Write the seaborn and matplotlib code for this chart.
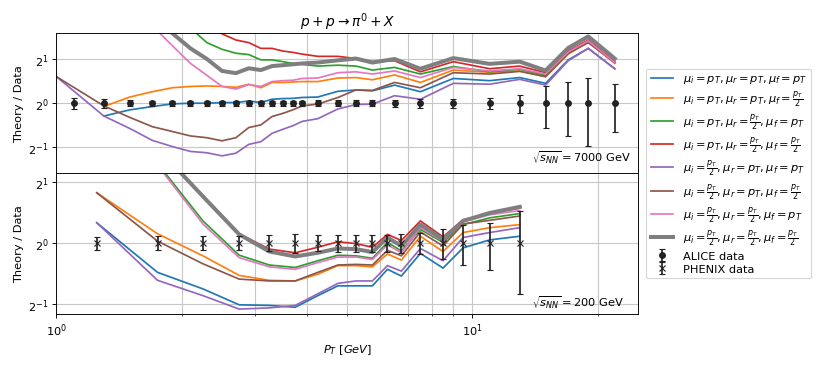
import numpy as np
import matplotlib
matplotlib.use('Agg')
import matplotlib.pyplot as plt
from matplotlib.ticker import NullFormatter
import seaborn as sns

# ALICE pp 7000 GeV (ratio data/data = 1, relative errors)
alice_pt = [1.1, 1.3, 1.5, 1.7, 1.9, 2.1, 2.3, 2.5, 2.7, 2.9, 3.1, 3.3, 3.5, 3.7, 3.9,
            4.25, 4.75, 5.25, 5.75, 6.5, 7.5, 9, 11, 13, 15, 17, 19, 22]
alice_err = [0.08, 0.07, 0.05, 0.04, 0.04, 0.04, 0.04, 0.04, 0.04, 0.04, 0.04, 0.04, 0.04, 0.04, 0.04,
             0.05, 0.05, 0.05, 0.05, 0.06, 0.07, 0.075, 0.09, 0.14, 0.32, 0.40, 0.49, 0.36]

# PHENIX pp 200 GeV
phenix_pt = [1.25, 1.75, 2.25, 2.75, 3.25, 3.75, 4.25, 4.75, 5.25, 5.75, 6.25, 6.75, 7.5, 8.5, 9.5, 11, 13]
phenix_err = [0.075, 0.08, 0.08, 0.08, 0.09, 0.11, 0.09, 0.10, 0.10, 0.10, 0.10, 0.11, 0.12, 0.17, 0.22, 0.26, 0.44]

# theory / data at 7000 GeV, stored as log2(ratio)
pt_7000 = [1.0, 1.3, 1.5, 1.7, 1.9, 2.1, 2.3, 2.5, 2.7, 2.9, 3.1, 3.3, 3.5, 3.7, 3.9,
           4.25, 4.75, 5.25, 5.75, 6.5, 7.5, 9, 11, 13, 15, 17, 19, 22]
nan = np.nan
th7_pt_pt_pt = [nan, -0.29, -0.15, -0.075, -0.015, 0.0, 0.0, 0.015, 0.015, 0.05, 0.015, 0.09, 0.105, 0.11, 0.13,
                0.14, 0.27, 0.30, 0.28, 0.41, 0.26, 0.56, 0.51, 0.58, 0.45, 0.98, 1.24, 0.78]
th7_pt_pt_h = [nan, -0.075, 0.14, 0.26, 0.35, 0.38, 0.39, 0.38, 0.36, 0.43, 0.35, 0.47, 0.47, 0.48, 0.49,
               0.49, 0.57, 0.58, 0.53, 0.64, 0.47, 0.75, 0.70, 0.73, 0.60, 1.11, 1.38, 0.90]
th7_pt_h_pt = [3.4, 2.9, 2.6, 2.3, 2.0, 1.7, 1.37, 1.22, 1.13, 1.10, 0.98, 0.98, 0.94, 0.90, 0.88,
               0.84, 0.86, 0.84, 0.75, 0.81, 0.66, 0.83, 0.71, 0.77, 0.63, 1.13, 1.39, 0.92]
th7_pt_h_h = [3.5, 3.0, 2.7, 2.45, 2.2, 2.0, 1.8, 1.57, 1.43, 1.37, 1.24, 1.24, 1.18, 1.15, 1.11,
              1.06, 1.06, 1.01, 0.94, 0.96, 0.71, 0.94, 0.78, 0.84, 0.69, 1.18, 1.43, 0.94]
th7_h_pt_pt = [0.60, -0.29, -0.57, -0.84, -0.98, -1.09, -1.12, -1.19, -1.13, -0.93, -0.87, -0.68, -0.59, -0.51, -0.41,
               -0.35, -0.13, -0.03, -0.02, 0.17, 0.09, 0.45, 0.43, 0.54, 0.41, 0.96, 1.24, 0.78]
th7_h_pt_h = [0.60, -0.06, -0.32, -0.53, -0.64, -0.74, -0.78, -0.85, -0.78, -0.55, -0.49, -0.30, -0.23, -0.15, -0.06,
              -0.02, 0.13, 0.30, 0.29, 0.47, 0.35, 0.69, 0.66, 0.72, 0.60, 1.13, 1.37, 0.92]
th7_h_h_pt = [3.1, 2.6, 2.2, 1.75, 1.30, 0.90, 0.63, 0.38, 0.32, 0.42, 0.38, 0.49, 0.51, 0.52, 0.56,
              0.57, 0.69, 0.71, 0.66, 0.73, 0.58, 0.81, 0.73, 0.78, 0.66, 1.16, 1.41, 0.92]
th7_h_h_h = [3.3, 2.7, 2.3, 1.95, 1.58, 1.24, 1.00, 0.73, 0.68, 0.79, 0.75, 0.84, 0.86, 0.88, 0.90,
             0.92, 0.97, 1.01, 0.92, 1.00, 0.78, 1.02, 0.89, 0.94, 0.74, 1.25, 1.51, 1.01]

# theory / data at 200 GeV, log2(ratio), at phenix_pt
th2_pt_pt_pt = [0.33, -0.48, -0.75, -1.01, -1.02, -1.05, -0.86, -0.70, -0.70, -0.70, -0.43, -0.54, -0.17, -0.41, -0.08, 0.05, 0.11]
th2_pt_pt_h = [0.82, 0.15, -0.21, -0.53, -0.61, -0.62, -0.51, -0.37, -0.37, -0.39, -0.18, -0.28, 0.11, -0.14, 0.17, 0.25, 0.30]
th2_pt_h_pt = [2.5, 1.30, 0.36, -0.20, -0.36, -0.40, -0.29, -0.20, -0.21, -0.25, 0.01, -0.13, 0.22, 0.01, 0.30, 0.41, 0.48]
th2_pt_h_h = [2.6, 1.56, 0.77, 0.15, -0.10, -0.16, -0.07, 0.02, -0.01, -0.07, 0.14, 0.04, 0.36, 0.10, 0.38, 0.48, 0.57]
th2_h_pt_pt = [0.33, -0.61, -0.86, -1.08, -1.06, -1.02, -0.83, -0.66, -0.62, -0.62, -0.37, -0.46, -0.09, -0.29, 0.09, 0.17, 0.25]
th2_h_pt_h = [0.82, 0.03, -0.34, -0.59, -0.62, -0.62, -0.48, -0.36, -0.35, -0.36, -0.12, -0.21, 0.18, -0.05, 0.31, 0.37, 0.44]
th2_h_h_pt = [2.45, 1.27, 0.31, -0.24, -0.39, -0.43, -0.32, -0.23, -0.23, -0.27, -0.03, -0.16, 0.25, 0.03, 0.35, 0.46, 0.53]
th2_h_h_h = [2.6, 1.55, 0.76, 0.14, -0.14, -0.22, -0.16, -0.09, -0.10, -0.15, 0.09, -0.05, 0.30, 0.06, 0.36, 0.49, 0.59]

labels = [
    r'$\mu_i=p_T, \mu_r=p_T, \mu_f=p_T$',
    r'$\mu_i=p_T, \mu_r=p_T, \mu_f=\frac{p_T}{2}$',
    r'$\mu_i=p_T, \mu_r=\frac{p_T}{2}, \mu_f=p_T$',
    r'$\mu_i=p_T, \mu_r=\frac{p_T}{2}, \mu_f=\frac{p_T}{2}$',
    r'$\mu_i=\frac{p_T}{2}, \mu_r=p_T, \mu_f=p_T$',
    r'$\mu_i=\frac{p_T}{2}, \mu_r=p_T, \mu_f=\frac{p_T}{2}$',
    r'$\mu_i=\frac{p_T}{2}, \mu_r=\frac{p_T}{2}, \mu_f=p_T$',
    r'$\mu_i=\frac{p_T}{2}, \mu_r=\frac{p_T}{2}, \mu_f=\frac{p_T}{2}$',
]
curves_7000 = [th7_pt_pt_pt, th7_pt_pt_h, th7_pt_h_pt, th7_pt_h_h, th7_h_pt_pt, th7_h_pt_h, th7_h_h_pt, th7_h_h_h]
curves_200 = [th2_pt_pt_pt, th2_pt_pt_h, th2_pt_h_pt, th2_pt_h_h, th2_h_pt_pt, th2_h_pt_h, th2_h_h_pt, th2_h_h_h]

colors = sns.color_palette('tab10', 8)
widths = [1.5] * 7 + [3.5]
data_color = '#222222'

fig, (ax1, ax2) = plt.subplots(2, 1, sharex=True, figsize=(10, 4.5), dpi=82.2)
plt.subplots_adjust(left=0.0687, right=0.776, top=0.908, bottom=0.15, hspace=0)

# top panel: 7000 GeV
for vals, lab, c, lw in zip(curves_7000, labels, colors, widths):
    sns.lineplot(x=pt_7000, y=np.exp2(vals), ax=ax1, color=c, lw=lw, label=lab, estimator=None, sort=False)
ax1.errorbar(alice_pt, np.ones(len(alice_pt)), yerr=alice_err, fmt='o', color=data_color,
             ms=5, capsize=3, elinewidth=1.5, zorder=5, label='ALICE data')

# bottom panel: 200 GeV
for vals, lab, c, lw in zip(curves_200, labels, colors, widths):
    sns.lineplot(x=phenix_pt, y=np.exp2(vals), ax=ax2, color=c, lw=lw, estimator=None, sort=False)
ax2.errorbar(phenix_pt, np.ones(len(phenix_pt)), yerr=phenix_err, fmt='x', color=data_color,
             ms=5, capsize=3, elinewidth=1.5, zorder=5, label='PHENIX data')

for ax in (ax1, ax2):
    ax.set_xscale('log')
    ax.set_yscale('log', base=2)
    ax.grid(True, which='both', color='0.78', lw=1)
    ax.set_ylabel('Theory / Data')
    ax.xaxis.set_minor_formatter(NullFormatter())
    if ax.get_legend() is not None:
        ax.get_legend().remove()

ax1.set_xlim(1, 25)
ax1.set_ylim(1 / 3, 3)
ax2.set_ylim(0.45, 2.2)

ax1.set_title(r'$p + p \rightarrow \pi^0 + X$')
ax2.set_xlabel(r'$P_T\ [GeV]$')

ax1.text(0.818, 0.116, r'$\sqrt{s_{NN}} = 7000$ GeV', transform=ax1.transAxes, ha='left', va='center')
ax2.text(0.818, 0.084, r'$\sqrt{s_{NN}} = 200$ GeV', transform=ax2.transAxes, ha='left', va='center')

h1, l1 = ax1.get_legend_handles_labels()
h2, l2 = ax2.get_legend_handles_labels()
fig.legend(h1 + h2, l1 + l2, loc='center left', bbox_to_anchor=(0.779, 0.528), labelspacing=0.25)

fig.savefig('out.png', dpi=82.2)
